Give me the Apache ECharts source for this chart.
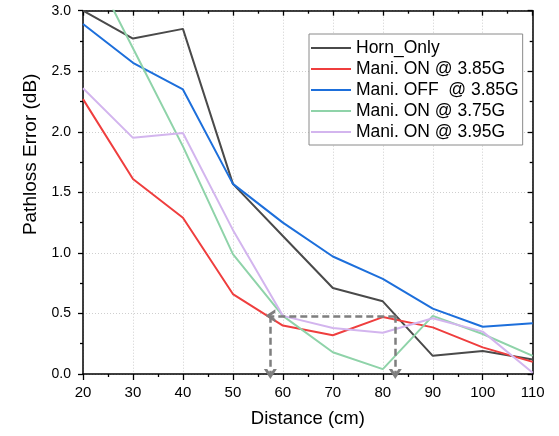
<!DOCTYPE html>
<html>
<head>
<meta charset="utf-8">
<script src="https://cdn.jsdelivr.net/npm/echarts@6/dist/echarts.min.js"></script>
<style>
html,body{margin:0;padding:0;background:#fff;}
#chart{width:559px;height:436px;}
</style>
</head>
<body>
<div id="chart"></div>
<script>
// ---- data ----
const distances = [20, 30, 40, 50, 60, 70, 80, 90, 100, 110];
const hornOnly   = [3.00, 2.77, 2.85, 1.57, 1.14, 0.71, 0.60, 0.15, 0.19, 0.12];
const maniOn385  = [2.27, 1.61, 1.29, 0.66, 0.40, 0.32, 0.47, 0.385, 0.22, 0.10];
const maniOff385 = [2.89, 2.57, 2.35, 1.57, 1.25, 0.97, 0.785, 0.54, 0.39, 0.42];
const maniOn375  = [3.50, 2.69, 1.88, 0.99, 0.48, 0.18, 0.04, 0.48, 0.33, 0.15];
const maniOn395  = [2.36, 1.95, 1.99, 1.19, 0.48, 0.38, 0.34, 0.46, 0.35, 0.01];
const seriesNames = ['Horn_Only', 'Mani. ON @ 3.85G', 'Mani. OFF  @ 3.85G', 'Mani. ON @ 3.75G', 'Mani. ON @ 3.95G'];
const yTicks = ['0.0', '0.5', '1.0', '1.5', '2.0', '2.5', '3.0'];
// annotation (dashed arrows), in data units
const arrowLevel = 0.48, arrowLeft = 57.5, arrowRight = 82.5;

const colors = ['#4a4a4a', '#ef3e3e', '#1d6fdb', '#8fd3a9', '#d3b5ee'];
const allValues = [hornOnly, maniOn385, maniOff385, maniOn375, maniOn395];

const FONT = "'Liberation Sans', Arial, sans-serif";
const chevron = 'path://M0,10 L5,0 L10,10 L7.4,10 L5,5.2 L2.6,10 Z';
const legendLine = 'path://M0,0 L40,0 L40,2 L0,2 Z';

const series = seriesNames.map((name, i) => ({
  name: name,
  type: 'line',
  xAxisIndex: 0,
  yAxisIndex: 0,
  symbol: 'none',
  showSymbol: false,
  clip: true,
  lineStyle: { color: colors[i], width: 2 },
  itemStyle: { color: colors[i] },
  data: distances.map((d, k) => [d, allValues[i][k]])
}));

series.push({
  name: 'arrows',
  type: 'line',
  data: [],
  silent: true,
  z: 5,
  markLine: {
    silent: true,
    symbol: ['none', chevron],
    symbolSize: [13, 10],
    label: { show: false },
    lineStyle: { color: '#7f7f7f', width: 2.5, type: [7, 4] },
    emphasis: { disabled: true },
    data: [
      [{ coord: [arrowRight, arrowLevel] }, { coord: [arrowLeft, arrowLevel] }],
      [{ coord: [arrowLeft, arrowLevel] }, { coord: [arrowLeft, 0] }],
      [{ coord: [arrowRight, arrowLevel] }, { coord: [arrowRight, 0] }]
    ]
  }
});

const chart = echarts.init(document.getElementById('chart'), null, { renderer: 'canvas' });
chart.setOption({
  animation: false,
  backgroundColor: '#fff',
  textStyle: { fontFamily: FONT },
  grid: { left: 83, right: 26.3, top: 10.7, bottom: 62, containLabel: false },
  legend: {
    data: seriesNames.map((n, i) => ({ name: n, icon: legendLine, itemStyle: { color: colors[i] } })),
    orient: 'vertical',
    left: 309,
    top: 34,
    itemWidth: 40,
    itemHeight: 14,
    itemGap: 3,
    padding: [5, 4, 4, 2],
    backgroundColor: '#fff',
    borderColor: '#8a8a8a',
    borderWidth: 1,
    textStyle: { fontSize: 17.5, color: '#000', fontFamily: FONT }
  },
  xAxis: [{
    type: 'value',
    position: 'bottom',
    min: 20, max: 110, interval: 10,
    name: 'Distance (cm)',
    nameLocation: 'middle',
    nameGap: 35,
    nameTextStyle: { fontSize: 18.5, color: '#000', fontFamily: FONT },
    axisLine: { show: true, onZero: false, lineStyle: { color: '#000', width: 1.5 } },
    axisTick: { show: true, inside: false, length: 6, lineStyle: { color: '#000', width: 1.3 } },
    minorTick: { show: true, splitNumber: 2, length: 3, lineStyle: { color: '#000', width: 1.3 } },
    axisLabel: { fontSize: 15, color: '#000', margin: 11, fontFamily: FONT },
    splitLine: { show: true, lineStyle: { color: '#cfcfcf', width: 1, type: [1, 2] } }
  }, {
    type: 'value',
    position: 'top',
    min: 20, max: 110, interval: 10,
    axisLine: { show: true, onZero: false, lineStyle: { color: '#000', width: 1.5 } },
    axisTick: { show: true, inside: true, length: 5, lineStyle: { color: '#000', width: 1.3 } },
    minorTick: { show: true, splitNumber: 2, length: 3, lineStyle: { color: '#000', width: 1.3 } },
    axisLabel: { show: false },
    splitLine: { show: false }
  }],
  yAxis: [{
    type: 'value',
    position: 'left',
    min: 0, max: 3, interval: 0.5,
    name: 'Pathloss Error (dB)',
    nameLocation: 'middle',
    nameGap: 43,
    nameTextStyle: { fontSize: 19, color: '#000', fontFamily: FONT, padding: [0, 0, 0, 76] },
    axisLine: { show: true, onZero: false, lineStyle: { color: '#000', width: 1.5 } },
    axisTick: { show: true, inside: false, length: 5, lineStyle: { color: '#000', width: 1.3 } },
    minorTick: { show: true, splitNumber: 2, length: 3, lineStyle: { color: '#000', width: 1.3 } },
    axisLabel: {
      fontSize: 14, color: '#000', margin: 12, fontFamily: FONT,
      formatter: (v) => yTicks[Math.round(v / 0.5)]
    },
    splitLine: { show: true, lineStyle: { color: '#cfcfcf', width: 1, type: [1, 2] } }
  }, {
    type: 'value',
    position: 'right',
    min: 0, max: 3, interval: 0.5,
    axisLine: { show: true, onZero: false, lineStyle: { color: '#000', width: 1.5 } },
    axisTick: { show: true, inside: true, length: 5, lineStyle: { color: '#000', width: 1.3 } },
    minorTick: { show: true, splitNumber: 2, length: 3, lineStyle: { color: '#000', width: 1.3 } },
    axisLabel: { show: false },
    splitLine: { show: false }
  }],
  series: series
});
</script>
</body>
</html>
